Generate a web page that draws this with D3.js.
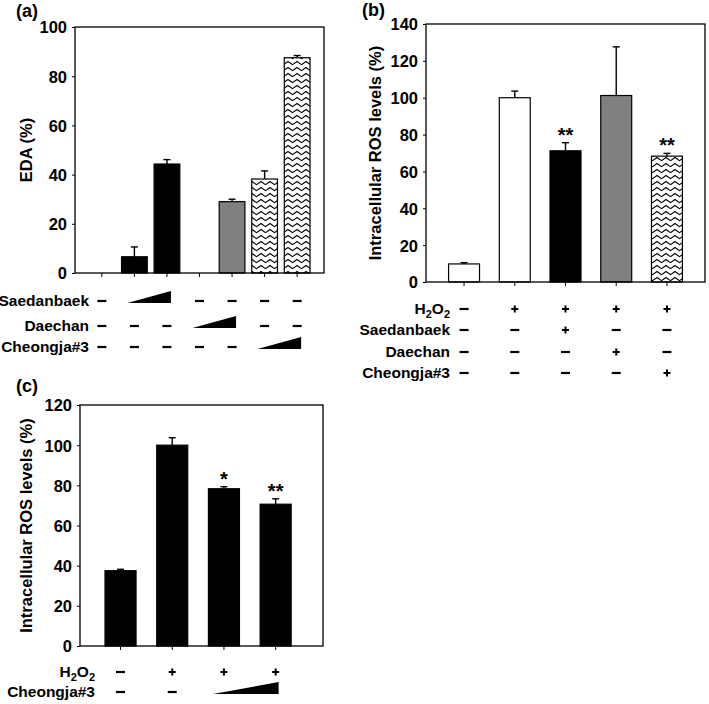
<!DOCTYPE html>
<html><head><meta charset="utf-8">
<script src="https://cdn.jsdelivr.net/npm/d3@7"></script>
<style>body{margin:0;background:#fff} text{font-family:"Liberation Sans",Arial,sans-serif;font-weight:bold;fill:#000}</style>
</head><body><svg id="chart" width="709" height="704"></svg>
<script>
// ---------- Panel (a) data ----------
const aCategories = ["Control", "Saedanbaek low", "Saedanbaek high", "Daechan low", "Daechan high", "Cheongja#3 low", "Cheongja#3 high"];
const aValues = [0, 6.6, 44.3, 0, 29.0, 38.2, 87.5];
const aErrors = [0, 4.0, 1.8, 0, 1.0, 3.3, 0.9];
const aTicks = [0, 20, 40, 60, 80, 100];
const aRowLabels = ["Saedanbaek", "Daechan", "Cheongja#3"];
const aRowMarks = [
  ["-", "w", "w", "-", "-", "-", "-"],
  ["-", "-", "-", "w", "w", "-", "-"],
  ["-", "-", "-", "-", "-", "w", "w"]
];
// ---------- Panel (b) data ----------
const bCategories = ["Untreated", "H2O2", "H2O2+Saedanbaek", "H2O2+Daechan", "H2O2+Cheongja#3"];
const bValues = [9.8, 100, 71.2, 101.2, 68.3];
const bErrors = [0.7, 3.6, 4.4, 26.4, 1.5];
const bSignif = ["", "", "**", "", "**"];
const bTicks = [0, 20, 40, 60, 80, 100, 120, 140];
const bRowLabels = ["H2O2", "Saedanbaek", "Daechan", "Cheongja#3"];
const bRowMarks = [
  ["-", "+", "+", "+", "+"],
  ["-", "-", "+", "-", "-"],
  ["-", "-", "-", "+", "-"],
  ["-", "-", "-", "-", "+"]
];
// ---------- Panel (c) data ----------
const cCategories = ["Untreated", "H2O2", "H2O2+Cheongja#3 low", "H2O2+Cheongja#3 high"];
const cValues = [37.5, 100, 78.3, 70.6];
const cErrors = [0.7, 3.7, 1.0, 2.7];
const cSignif = ["", "", "*", "**"];
const cTicks = [0, 20, 40, 60, 80, 100, 120];
const cRowLabels = ["H2O2", "Cheongja#3"];
const cRowMarks = [
  ["-", "+", "+", "+"],
  ["-", "-", "w", "w"]
];

const svg = d3.select("#chart");
const defs = svg.append("defs");
const pat = defs.append("pattern").attr("id", "zig").attr("patternUnits", "userSpaceOnUse")
  .attr("width", 9).attr("height", 6);
pat.append("rect").attr("width", 9).attr("height", 6).attr("fill", "#fff");
pat.append("path").attr("d", "M-0.5,1.2 L4.5,4.6 L9.5,1.2").attr("stroke", "#000").attr("stroke-width", 1.1).attr("fill", "none");

function labelText(sel, label) {
  if (label === "H2O2") {
    sel.append("tspan").text("H");
    sel.append("tspan").text("2").attr("font-size", 11).attr("dy", 4);
    sel.append("tspan").text("O").attr("dy", -4);
    sel.append("tspan").text("2").attr("font-size", 11).attr("dy", 4);
  } else sel.text(label);
}

function panel(cfg) {
  const g = svg.append("g");
  const x = d3.scaleBand().domain(cfg.cats).range([cfg.left, cfg.right])
    .paddingInner(cfg.pi).paddingOuter(cfg.po).align(cfg.align);
  const y = d3.scaleLinear().domain([0, cfg.max]).range([cfg.bottom, cfg.top]);
  const data = cfg.cats.map((c, i) => ({c, v: cfg.vals[i], e: cfg.errs[i], s: cfg.sig ? cfg.sig[i] : ""}));

  g.selectAll("rect.bar").data(data.filter(d => d.v > 0)).join("rect")
    .attr("x", d => x(d.c)).attr("width", x.bandwidth())
    .attr("y", d => y(d.v)).attr("height", d => y(0) - y(d.v))
    .attr("fill", d => cfg.fill(d.c)).attr("stroke", "#000").attr("stroke-width", 1.2);
  const eb = data.filter(d => d.v > 0 && d.e > 0);
  g.selectAll("line.err").data(eb).join("line")
    .attr("x1", d => x(d.c) + x.bandwidth() / 2).attr("x2", d => x(d.c) + x.bandwidth() / 2)
    .attr("y1", d => y(d.v)).attr("y2", d => y(d.v + d.e)).attr("stroke", "#000").attr("stroke-width", 1.4);
  g.selectAll("line.cap").data(eb).join("line")
    .attr("x1", d => x(d.c) + x.bandwidth() / 2 - 3.5).attr("x2", d => x(d.c) + x.bandwidth() / 2 + 3.5)
    .attr("y1", d => y(d.v + d.e)).attr("y2", d => y(d.v + d.e)).attr("stroke", "#000").attr("stroke-width", 1.4);
  g.selectAll("text.sig").data(data.filter(d => d.s)).join("text")
    .attr("x", d => x(d.c) + x.bandwidth() / 2).attr("y", d => y(d.v + d.e) - 1)
    .attr("text-anchor", "middle").attr("font-size", 20).text(d => d.s);

  g.append("rect").attr("x", cfg.left).attr("y", cfg.top).attr("width", cfg.right - cfg.left)
    .attr("height", cfg.bottom - cfg.top).attr("fill", "none").attr("stroke", "#000").attr("stroke-width", 1.3);

  const ya = g.append("g").attr("transform", `translate(${cfg.left},0)`)
    .call(d3.axisLeft(y).tickValues(cfg.ticks).tickSize(3).tickPadding(5));
  ya.select(".domain").remove();
  ya.selectAll("text").attr("font-size", 16.5).attr("font-family", "Liberation Sans, Arial, sans-serif")
    .attr("font-weight", "bold").attr("dy", "0.36em").attr("fill", "#000");
  ya.selectAll("line").attr("stroke", "#000");
  const xa = g.append("g").attr("transform", `translate(0,${cfg.bottom})`)
    .call(d3.axisBottom(x).tickSize(4).tickFormat(""));
  xa.select(".domain").remove();
  xa.selectAll("line").attr("stroke", "#000");

  g.append("text").attr("transform", `translate(${cfg.titleX},${(cfg.top + cfg.bottom) / 2}) rotate(-90)`)
    .attr("text-anchor", "middle").attr("font-size", 16.5).text(cfg.title);
  g.append("text").attr("x", cfg.labelX).attr("y", cfg.labelY).attr("font-size", 18).text(cfg.label);

  cfg.rowLabels.forEach((lab, r) => {
    const ry = cfg.rowY[r];
    const t = g.append("text").attr("x", cfg.rowLabelX).attr("y", ry + 5).attr("text-anchor", "end").attr("font-size", 15.5);
    labelText(t, lab);
    const marks = cfg.rowMarks[r];
    const wcols = [];
    marks.forEach((m, i) => {
      const cx = x(cfg.cats[i]) + x.bandwidth() / 2;
      if (m === "-") {
        g.append("line").attr("x1", cx - 4.5).attr("x2", cx + 4.5).attr("y1", ry).attr("y2", ry)
          .attr("stroke", "#000").attr("stroke-width", 2.2);
      } else if (m === "+") {
        g.append("line").attr("x1", cx - 3.5).attr("x2", cx + 3.5).attr("y1", ry).attr("y2", ry)
          .attr("stroke", "#000").attr("stroke-width", 2);
        g.append("line").attr("x1", cx).attr("x2", cx).attr("y1", ry - 3.5).attr("y2", ry + 3.5)
          .attr("stroke", "#000").attr("stroke-width", 2);
      } else if (m === "w") wcols.push(cx);
    });
    if (wcols.length) {
      const x0 = wcols[0] - cfg.wedgeL, x1 = wcols[wcols.length - 1] + cfg.wedgeR;
      g.append("path").attr("d", `M${x0},${ry + 2}L${x1},${ry + 2}L${x1},${ry - 10}Z`).attr("fill", "#000");
    }
  });
}

panel({cats: aCategories, vals: aValues, errs: aErrors, sig: null, ticks: aTicks, max: 100,
  left: 75, right: 324, top: 27, bottom: 273, pi: 0.21, po: 0.43, align: 0.5,
  fill: c => c.startsWith("Cheongja") ? "url(#zig)" : c.startsWith("Daechan") ? "#808080" : "#000",
  title: "EDA (%)", titleX: 32, label: "(a)", labelX: 16, labelY: 17,
  rowLabels: aRowLabels, rowMarks: aRowMarks, rowLabelX: 89, rowY: [301, 326, 347], wedgeL: 7, wedgeR: 4});

panel({cats: bCategories, vals: bValues, errs: bErrors, sig: bSignif, ticks: bTicks, max: 140,
  left: 426, right: 705, top: 24, bottom: 282, pi: 0.39, po: 0.445, align: 0.5,
  fill: c => c.includes("Cheongja") ? "url(#zig)" : c.includes("Daechan") ? "#808080" : c.includes("Saedanbaek") ? "#000" : "#fff",
  title: "Intracellular ROS levels (%)", titleX: 381, label: "(b)", labelX: 362, labelY: 16,
  rowLabels: bRowLabels, rowMarks: bRowMarks, rowLabelX: 450, rowY: [309, 330, 352, 373], wedgeL: 7, wedgeR: 4});

panel({cats: cCategories, vals: cValues, errs: cErrors, sig: cSignif, ticks: cTicks, max: 120,
  left: 80, right: 323, top: 405, bottom: 646, pi: 0.4, po: 0.55, align: 0.44,
  fill: c => "#000",
  title: "Intracellular ROS levels (%)", titleX: 32, label: "(c)", labelX: 16, labelY: 392,
  rowLabels: cRowLabels, rowMarks: cRowMarks, rowLabelX: 95, rowY: [672, 692], wedgeL: 11, wedgeR: 3});
</script></body></html>
